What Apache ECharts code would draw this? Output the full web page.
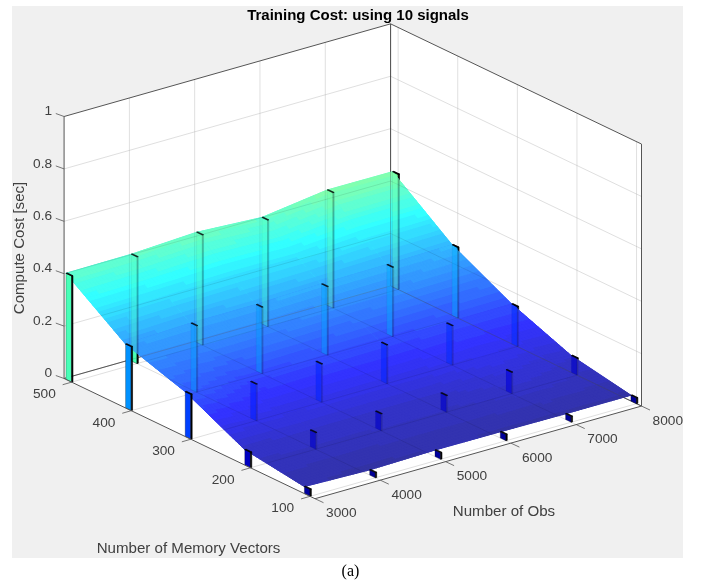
<!DOCTYPE html>
<html><head><meta charset="utf-8">
<style>html,body{margin:0;padding:0;background:#fff}#c{width:701px;height:583px}</style>
<script src="https://cdn.jsdelivr.net/npm/echarts@6/dist/echarts.min.js"></script>
</head><body><div id="c"></div>
<script>
const obsTicks=[3000,4000,5000,6000,7000,8000];
const memTicks=[500,400,300,200,100];
const zTicks=[0,0.2,0.4,0.6,0.8,1];
const cost500=[.405,.407,.42,.406,.44,.439];
const cost400=[.244,.253,.253,.261,.264,.269];
const cost300=[.171,.139,.145,.147,.150,.152];
const cost200=[.059,.063,.064,.063,.081,.064];
const cost100=[.027,.02,.025,.024,.022,.022];
const costRows=[cost500,cost400,cost300,cost200,cost100];
const titleText='Training Cost: using 10 signals';
const xName='Number of Obs', yName='Number of Memory Vectors', zName='Compute Cost [sec]', caption='(a)';

// orthographic view of the MATLAB axes box
const O0=3000,O1=8000,M0=91.7,M1=512.7;
const orig=[315,498.7], vO=[65.3,-18.53], vM=[-59.6,-28.55], vZ=262;
const P=(o,m,z)=>[orig[0]+(o-O0)/1000*vO[0]+(m-M0)/100*vM[0], orig[1]+(o-O0)/1000*vO[1]+(m-M0)/100*vM[1]-z*vZ];
const barW=9.5, barT=20;
const FONT='"Liberation Sans",Arial,sans-serif';
const GRID='#f6f6f6', BOX='#555555', TXT='#404040';

function jet(t){
  const c=v=>Math.max(0,Math.min(1,v));
  return [c(Math.min(4*t-1.5,-4*t+4.5)),c(Math.min(4*t-0.5,-4*t+3.5)),c(Math.min(4*t+0.5,-4*t+2.5))];
}
const zToC=z=>z*1.1;
const rgb=a=>'rgb('+a.map(v=>Math.round(v*255)).join(',')+')';
const surf=z=>{const q=Math.floor(zToC(z)*72)/72;return rgb(jet(q).map(v=>.8*v+.2));};

const poly=(api,pts,style)=>({type:'polygon',shape:{points:pts.map(p=>api.coord(p))},style});
const seg=(api,a,b,stroke,w,op)=>{const A=api.coord(a),B=api.coord(b);
  return {type:'line',shape:{x1:A[0],y1:A[1],x2:B[0],y2:B[1]},style:{stroke,lineWidth:w,opacity:op==null?1:op}};};

function gridLines(api,col,op){
  const out=[];
  zTicks.slice(1,5).forEach(z=>{
    out.push(seg(api,P(O0,M1,z),P(O1,M1,z),col,1,op));
    out.push(seg(api,P(O1,M1,z),P(O1,M0,z),col,1,op));
  });
  obsTicks.slice(1).forEach(o=>{
    out.push(seg(api,P(o,M1,0),P(o,M1,1),col,1,op));
    out.push(seg(api,P(o,M0,0),P(o,M1,0),col,1,op));
  });
  memTicks.forEach(m=>{
    out.push(seg(api,P(O1,m,0),P(O1,m,1),col,1,op));
    out.push(seg(api,P(O0,m,0),P(O1,m,0),col,1,op));
  });
  return out;
}
function backEdges(api,op){
  return [seg(api,P(O0,M1,0),P(O1,M1,0),BOX,1,op),seg(api,P(O1,M1,0),P(O1,M0,0),BOX,1,op),
          seg(api,P(O1,M1,0),P(O1,M1,1),BOX,1,op)];
}
function barShape(api,o,m,z,fillOp,edgeOp){
  const col=rgb(jet(zToC(z)));
  return [
    poly(api,[P(o,m+barW,0),P(o,m,0),P(o,m,z),P(o,m+barW,z)],{fill:col,opacity:fillOp}),
    poly(api,[P(o,m+barW,0),P(o,m,0),P(o,m,z),P(o,m+barW,z)],{fill:'none',stroke:'#000',lineWidth:.5,opacity:edgeOp*.55}),
    poly(api,[P(o,m,0),P(o+barT,m,0),P(o+barT,m,z),P(o,m,z)],{fill:'#000',stroke:'#000',lineWidth:.6,opacity:edgeOp}),
    poly(api,[P(o,m+barW,z),P(o,m,z),P(o+barT,m,z),P(o+barT,m+barW,z)],{fill:'#000',stroke:'#000',lineWidth:.7,opacity:Math.max(edgeOp,.8)})
  ];
}
const barItems=[];
memTicks.forEach((m,r)=>obsTicks.forEach((o,c)=>barItems.push([o,m,costRows[r][c]])));
const isFront=d=>d[0]===O0||d[1]===100;
const backBars=barItems.filter(d=>!isFront(d)), frontBars=barItems.filter(isFront);
const cells=[];
for(let r=0;r<memTicks.length-1;r++)for(let c=0;c<obsTicks.length-1;c++)cells.push([r,c]);

const N=20;
function renderCell(params,api){
  const [r,c]=cells[params.dataIndex];
  const m0=memTicks[r]+barW,m1=memTicks[r+1]+barW,o0=obsTicks[c],o1=obsTicks[c+1];
  const a=costRows[r][c],b=costRows[r][c+1],d=costRows[r+1][c],e=costRows[r+1][c+1];
  const zf=(u,v)=>a*(1-u)*(1-v)+b*u*(1-v)+d*(1-u)*v+e*u*v;
  const pt=(u,v)=>P(o0+(o1-o0)*u,m0+(m1-m0)*v,zf(u,v));
  const base=surf(zf(.5,.5));
  const kids=[poly(api,[pt(0,0),pt(1,0),pt(1,1),pt(0,1)],{fill:base,stroke:base,lineWidth:.5})];
  for(let i=0;i<N;i++)for(let j=0;j<N;j++){
    const u=i/N,v=j/N,u2=(i+1)/N,v2=(j+1)/N;
    const col=surf(zf((u+u2)/2,(v+v2)/2));
    kids.push(poly(api,[pt(u,v),pt(u2,v),pt(u2,v2),pt(u,v2)],{fill:col,stroke:col,lineWidth:1}));
  }
  return {type:'group',children:kids};
}
function layer(z,fn,data){
  return {type:'custom',coordinateSystem:'cartesian2d',silent:true,clip:false,z,animation:false,
    data:data||[[12,6]],renderItem:fn};
}
const txt=(api,pos,text,extra)=>{const p=api.coord(pos);
  return Object.assign({type:'text',x:p[0],y:p[1],style:Object.assign({text,fill:TXT,font:'13.7px '+FONT,align:'center',verticalAlign:'middle'},extra||{})});};
const NAMEFONT='15.1px '+FONT;

const option={
  animation:false,
  title:{text:titleText,left:353,top:3,textAlign:'center',textStyle:{fontFamily:FONT,fontSize:15,fontWeight:'bold',color:'#000',lineHeight:16}},
  grid:{show:true,left:12,top:6,width:671,height:552,backgroundColor:'#f0f0f0',borderWidth:0},
  xAxis:{type:'value',min:12,max:683,show:false},
  yAxis:{type:'value',min:6,max:558,inverse:true,show:false},
  series:[
    layer(1,(p,api)=>({type:'group',children:[
      poly(api,[P(O0,M1,0),P(O0,M1,1),P(O1,M1,1),P(O1,M1,0)],{fill:'#fff'}),
      poly(api,[P(O1,M1,0),P(O1,M1,1),P(O1,M0,1),P(O1,M0,0)],{fill:'#fff'}),
      poly(api,[P(O0,M0,0),P(O0,M1,0),P(O1,M1,0),P(O1,M0,0)],{fill:'#fff'}),
      ...gridLines(api,GRID,1),
      ...backEdges(api,1),
      seg(api,P(O0,M1,1),P(O1,M1,1),BOX,1),seg(api,P(O1,M1,1),P(O1,M0,1),BOX,1),
      seg(api,P(O0,M1,0),P(O0,M1,1),BOX,1),seg(api,P(O1,M0,0),P(O1,M0,1),BOX,1)
    ]})),
    layer(2,(p,api)=>{const d=backBars[p.dataIndex];return {type:'group',children:barShape(api,d[0],d[1],d[2],1,1)};},backBars),
    layer(3,renderCell,cells),
    layer(4,(p,api)=>({type:'group',children:[...gridLines(api,'#000',.09),...backEdges(api,.28)]})),
    layer(5,(p,api)=>{const d=backBars[p.dataIndex];return {type:'group',children:barShape(api,d[0],d[1],d[2],.7-d[2],.08+d[2]*.3)};},backBars),
    layer(6,(p,api)=>{const d=frontBars[p.dataIndex];return {type:'group',children:barShape(api,d[0],d[1],d[2],1,1)};},frontBars),
    layer(7,(p,api)=>{
      const k=[seg(api,P(O0,M1,0),P(O0,M0,0),BOX,1),seg(api,P(O0,M0,0),P(O1,M0,0),BOX,1)];
      zTicks.forEach(z=>{
        const q=P(O0,M1,z);k.push(seg(api,q,[q[0]-8.3,q[1]-3],BOX,.8));
        k.push(txt(api,[q[0]-12,q[1]-5],String(z),{align:'right'}));
      });
      memTicks.forEach(m=>{
        const q=P(O0,m,0);k.push(seg(api,q,[q[0]-9,q[1]+2.6],BOX,.8));
        k.push(txt(api,[q[0]-27.3,q[1]+12.3],String(m)));
      });
      obsTicks.forEach(o=>{
        const q=P(o,M0,0);k.push(seg(api,q,[q[0]+8.5,q[1]+4],BOX,.8));
        k.push(txt(api,[q[0]+26.3,q[1]+14.8],String(o)));
      });
      k.push(txt(api,[504,511.5],xName,{font:NAMEFONT}));
      k.push(txt(api,[188.5,548.5],yName,{font:NAMEFONT}));
      const zp=api.coord([19.5,248]);
      k.push({type:'text',x:zp[0],y:zp[1],rotation:Math.PI/2,style:{text:zName,fill:TXT,font:NAMEFONT,align:'center',verticalAlign:'middle'}});
      k.push({type:'text',x:350.5,y:572,style:{text:caption,fill:'#000',font:'16px "Liberation Serif","Times New Roman",serif',align:'center',verticalAlign:'middle'}});
      return {type:'group',children:k};
    })
  ]
};
const chart=echarts.init(document.getElementById('c'),null,{renderer:'canvas',width:701,height:583});
chart.setOption(option);
</script></body></html>
